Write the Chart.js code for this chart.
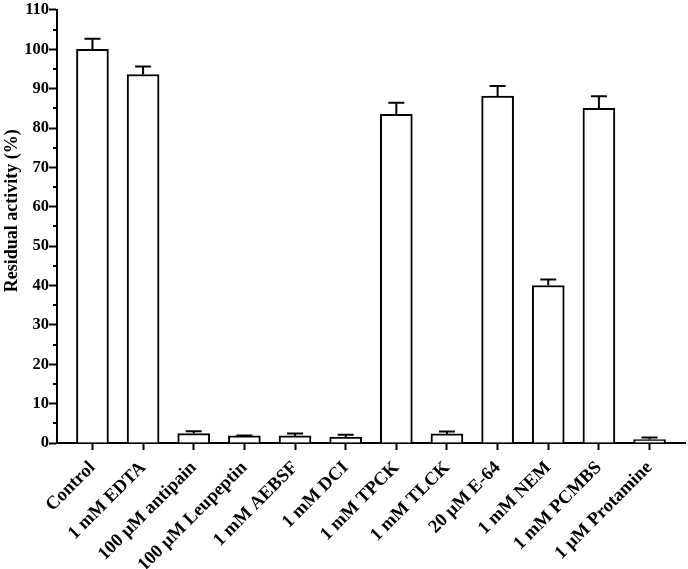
<!DOCTYPE html>
<html>
<head>
<meta charset="utf-8">
<script src="https://cdn.jsdelivr.net/npm/chart.js@4.4.1/dist/chart.umd.min.js"></script>
<style>
  html, body { margin: 0; padding: 0; background: #fff; }
  #wrap { width: 688px; height: 569px; }
</style>
</head>
<body>
<div id="wrap"><canvas id="inhibitor-chart" width="688" height="569"></canvas></div>
<script>
// Data
const treatments = ['Control', '1 mM EDTA', '100 \u03BCM antipain', '100 \u03BCM Leupeptin',
  '1 mM AEBSF', '1 mM DCI', '1 mM TPCK', '1 mM TLCK', '20 \u03BCM E-64',
  '1 mM NEM', '1 mM PCMBS', '1 \u03BCM Protamine'];
const activity = [100, 93.6, 2.4, 1.8, 1.8, 1.5, 83.5, 2.3, 88.1, 40.0, 85.0, 0.9];
const activitySD = [2.7, 2.0, 0.6, 0.1, 0.6, 0.6, 2.9, 0.6, 2.6, 1.5, 3.1, 0.5];
const yTicks = [0, 10, 20, 30, 40, 50, 60, 70, 80, 90, 100, 110];
const yTitle = 'Residual activity (%)';

const serif = "'Liberation Serif', 'Times New Roman', Times, serif";

// upper error bars with a cap
const errorBars = {
  id: 'errorBars',
  afterDatasetsDraw(chart) {
    const c = chart.ctx;
    const y = chart.scales.y;
    const meta = chart.getDatasetMeta(0);
    c.save();
    c.strokeStyle = '#000';
    c.lineWidth = 2;
    meta.data.forEach((bar, i) => {
      const top = y.getPixelForValue(activity[i] + activitySD[i]);
      const base = y.getPixelForValue(activity[i]);
      c.beginPath();
      c.moveTo(bar.x, base);
      c.lineTo(bar.x, top);
      c.moveTo(bar.x - 8, top);
      c.lineTo(bar.x + 8, top);
      c.stroke();
    });
    c.restore();
  }
};

// short minor ticks between the labelled ones, plus the axis title
const axisExtras = {
  id: 'axisExtras',
  afterDraw(chart) {
    const c = chart.ctx;
    const y = chart.scales.y;
    c.save();
    c.strokeStyle = '#000';
    c.lineWidth = 2;
    for (let i = 0; i < yTicks.length - 1; i++) {
      const py = Math.round(y.getPixelForValue((yTicks[i] + yTicks[i + 1]) / 2));
      c.beginPath();
      c.moveTo(y.right, py);
      c.lineTo(y.right - 4, py);
      c.stroke();
    }
    // title sits a little above the axis middle in the original
    c.translate(12, y.getPixelForValue(59));
    c.rotate(-Math.PI / 2);
    c.fillStyle = '#000';
    c.font = 'bold 18px ' + serif;
    c.textAlign = 'center';
    c.textBaseline = 'middle';
    c.fillText(yTitle, 0, 0);
    c.restore();
  }
};

const ctx = document.getElementById('inhibitor-chart').getContext('2d');

const chart = new Chart(ctx, {
  type: 'bar',
  data: {
    datasets: [{
      data: treatments.map((t, i) => ({ x: i, y: activity[i] })),
      backgroundColor: '#fff',
      borderColor: '#000',
      borderWidth: 2,
      barThickness: 32
    }]
  },
  options: {
    responsive: false,
    animation: false,
    layout: { padding: { top: 8, right: 3, left: 0, bottom: 0 } },
    plugins: {
      legend: { display: false },
      tooltip: { enabled: false }
    },
    scales: {
      x: {
        type: 'linear',
        min: -0.7,
        max: 11.7,
        offset: false,
        afterBuildTicks: scale => {
          scale.ticks = treatments.map((t, i) => ({ value: i }));
        },
        afterFit: scale => { scale.height = 126; },
        grid: {
          offset: false,
          drawOnChartArea: false,
          tickLength: 7,
          tickWidth: 2,
          tickColor: '#000'
        },
        border: { color: '#000', width: 2 },
        ticks: {
          autoSkip: false,
          minRotation: 45,
          maxRotation: 45,
          padding: 7,
          color: '#000',
          font: { family: serif, size: 18.5, weight: 'bold' },
          callback: v => treatments[v]
        }
      },
      y: {
        min: 0,
        max: 110,
        afterBuildTicks: scale => {
          scale.ticks = yTicks.map(v => ({ value: v }));
        },
        afterFit: scale => { scale.width = 57; },
        grid: {
          drawOnChartArea: false,
          tickLength: 8,
          tickWidth: 2,
          tickColor: '#000'
        },
        border: { color: '#000', width: 2 },
        ticks: {
          padding: 0,
          color: '#000',
          font: { family: serif, size: 16.5, weight: 'bold' }
        }
      }
    }
  },
  plugins: [errorBars, axisExtras]
});
</script>
</body>
</html>
